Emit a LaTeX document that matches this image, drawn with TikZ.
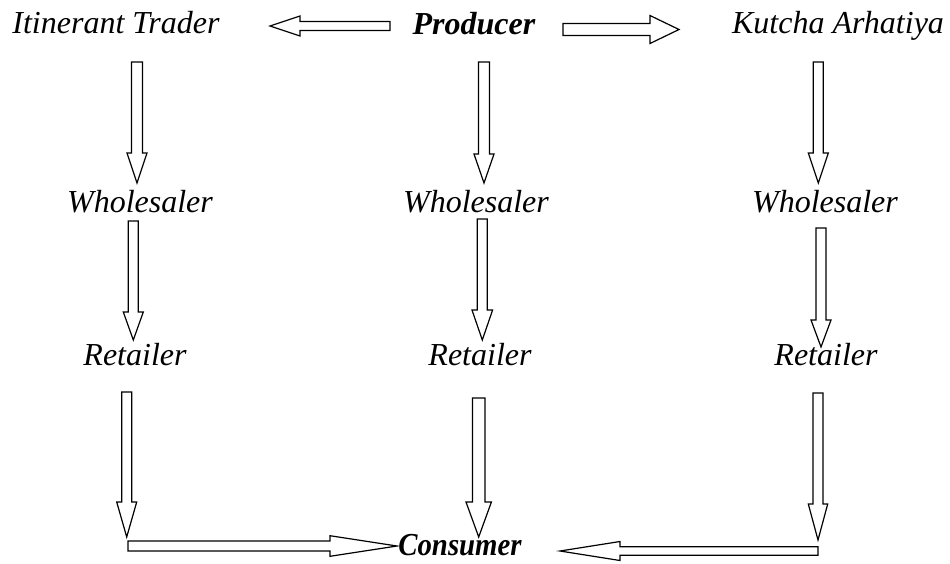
\documentclass[tikz,border=0pt]{standalone}
\usepackage{fontspec}
\setmainfont{Liberation Serif}
\usetikzlibrary{calc}
\tikzset{
  lbl/.style={anchor=base, inner sep=0pt, font=\fontsize{32}{38}\selectfont\itshape},
  blbl/.style={lbl, font=\fontsize{32}{38}\selectfont\bfseries\itshape},
  blk/.style={draw=black, line width=1.2pt, line join=miter, fill=white}
}
% #1 start, #2 tip, #3 shaft half width, #4 head half width, #5 head length
\newcommand\blkarrow[5]{%
  \coordinate (#1-h) at ($(#2)!#5!(#1)$);
  \draw[blk] ($(#1)!#3!90:(#2)$) -- ($(#1-h)!#3!90:(#2)$) -- ($(#1-h)!#4!90:(#2)$)
    -- (#2) -- ($(#1-h)!#4!-90:(#2)$) -- ($(#1-h)!#3!-90:(#2)$) -- ($(#1)!#3!-90:(#2)$) -- cycle;
}
\begin{document}
\begin{tikzpicture}[x=1pt,y=-1pt]
\useasboundingbox (0,0) rectangle (950,563);
% nodes
\node[lbl]  (itin) at (116,33) {Itinerant Trader};
\node[blbl] (prod) at (474,34) {Producer};
\node[lbl]  (kut)  at (838,33) {Kutcha Arhatiya};
\node[lbl]  (wl)   at (140,212) {Wholesaler};
\node[lbl]  (wm)   at (476,212) {Wholesaler};
\node[lbl]  (wr)   at (825,212) {Wholesaler};
\node[lbl]  (rl)   at (135,365) {Retailer};
\node[lbl]  (rm)   at (480,365) {Retailer};
\node[lbl]  (rr)   at (826,365) {Retailer};
\node[blbl, xscale=0.9] (cons) at (460,555) {Consumer};
% connector end points
\coordinate (pi-s) at (390,26);   \coordinate (pi-t) at (270,26);
\coordinate (pk-s) at (563,29.5); \coordinate (pk-t) at (679,29.5);
\coordinate (iw-s) at (137,62);   \coordinate (iw-t) at (137,183);
\coordinate (wrl-s) at (133.3,221); \coordinate (wrl-t) at (133.3,340);
\coordinate (rcl-s) at (126.7,392); \coordinate (rcl-t) at (126.7,537);
\coordinate (ccl-s) at (128,546); \coordinate (ccl-t) at (397,546);
\coordinate (pw-s) at (484,62);   \coordinate (pw-t) at (484,183);
\coordinate (wrm-s) at (482.3,219); \coordinate (wrm-t) at (482.3,340);
\coordinate (rcm-s) at (478.7,398); \coordinate (rcm-t) at (478.7,537);
\coordinate (kw-s) at (818.3,62); \coordinate (kw-t) at (818.3,183);
\coordinate (wrr-s) at (821,228); \coordinate (wrr-t) at (821,347);
\coordinate (rcr-s) at (818,393); \coordinate (rcr-t) at (818,540);
\coordinate (ccr-s) at (818,551); \coordinate (ccr-t) at (560,551);
% connectors
\blkarrow{pi-s}{pi-t}{4.5pt}{10pt}{30pt}
\blkarrow{pk-s}{pk-t}{6pt}{14pt}{29pt}
\blkarrow{iw-s}{iw-t}{5.5pt}{10pt}{30pt}
\blkarrow{wrl-s}{wrl-t}{5pt}{10pt}{28pt}
\blkarrow{rcl-s}{rcl-t}{5pt}{10pt}{35pt}
\blkarrow{ccl-s}{ccl-t}{5pt}{10.3pt}{67pt}
\blkarrow{pw-s}{pw-t}{5.5pt}{10pt}{29pt}
\blkarrow{wrm-s}{wrm-t}{5pt}{10.3pt}{30pt}
\blkarrow{rcm-s}{rcm-t}{6.3pt}{12.7pt}{35pt}
\blkarrow{kw-s}{kw-t}{5pt}{10pt}{30pt}
\blkarrow{wrr-s}{wrr-t}{5pt}{10pt}{27pt}
\blkarrow{rcr-s}{rcr-t}{5pt}{9.7pt}{36pt}
\blkarrow{ccr-s}{ccr-t}{4.2pt}{9.5pt}{60pt}
\end{tikzpicture}
\end{document}
